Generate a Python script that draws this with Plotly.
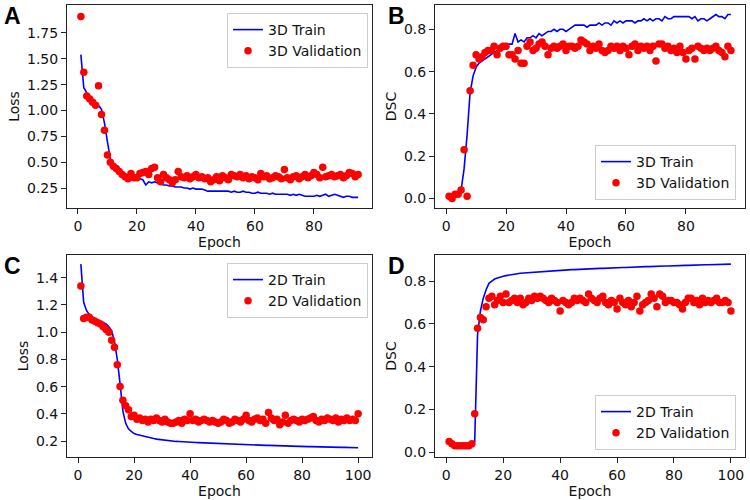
import plotly.graph_objects as go

# ---------------- data ----------------
epochs_3d = list(range(1, 96))
epochs_2d = list(range(1, 101))

loss_train_3d = [1.54, 1.22, 1.17, 1.13, 1.10, 1.07, 1.05, 1.01, 0.88, 0.70,
                 0.53, 0.46, 0.43, 0.40, 0.38, 0.37, 0.36, 0.36, 0.35, 0.35,
                 0.34, 0.33, 0.28, 0.31, 0.30, 0.31, 0.30, 0.29, 0.28, 0.28,
                 0.27, 0.27, 0.26, 0.26, 0.26, 0.25, 0.25, 0.24, 0.25, 0.24,
                 0.24, 0.24, 0.23, 0.22, 0.22, 0.22, 0.22, 0.22, 0.22, 0.22,
                 0.22, 0.21, 0.22, 0.21, 0.21, 0.22, 0.21, 0.21, 0.20, 0.20,
                 0.21, 0.20, 0.20, 0.20, 0.19, 0.20, 0.19, 0.19, 0.19, 0.19,
                 0.19, 0.18, 0.19, 0.18, 0.19, 0.18, 0.17, 0.17, 0.17, 0.17,
                 0.18, 0.17, 0.18, 0.19, 0.17, 0.18, 0.19, 0.18, 0.17, 0.16,
                 0.17, 0.17, 0.16, 0.16, 0.16]
loss_val_3d = [1.91, 1.37, 1.14, 1.11, 1.08, 1.05, 1.24, 0.96, 0.81, 0.57,
               0.50, 0.46, 0.44, 0.41, 0.38, 0.36, 0.34, 0.39, 0.35, 0.35,
               0.39, 0.40, 0.41, 0.38, 0.44, 0.45, 0.35, 0.31, 0.38, 0.35,
               0.33, 0.30, 0.33, 0.41, 0.36, 0.35, 0.37, 0.34, 0.36, 0.38,
               0.35, 0.36, 0.34, 0.35, 0.31, 0.33, 0.36, 0.32, 0.37, 0.35,
               0.33, 0.38, 0.37, 0.36, 0.38, 0.35, 0.37, 0.34, 0.36, 0.35,
               0.33, 0.39, 0.36, 0.37, 0.34, 0.35, 0.37, 0.36, 0.34, 0.43,
               0.35, 0.33, 0.36, 0.37, 0.34, 0.36, 0.38, 0.35, 0.37, 0.40,
               0.38, 0.35, 0.45, 0.36, 0.37, 0.38, 0.36, 0.37, 0.38, 0.35,
               0.37, 0.40, 0.39, 0.36, 0.38]
dsc_train_3d = [0.01, 0.01, 0.02, 0.02, 0.04, 0.14, 0.30, 0.50, 0.58, 0.62,
                0.64, 0.65, 0.66, 0.67, 0.68, 0.69, 0.70, 0.71, 0.71, 0.72,
                0.73, 0.73, 0.78, 0.74, 0.75, 0.74, 0.76, 0.76, 0.77, 0.76,
                0.78, 0.77, 0.78, 0.79, 0.79, 0.80, 0.79, 0.80, 0.80, 0.79,
                0.80, 0.81, 0.82, 0.82, 0.82, 0.82, 0.81, 0.82, 0.82, 0.82,
                0.83, 0.82, 0.83, 0.83, 0.82, 0.84, 0.83, 0.84, 0.83, 0.84,
                0.84, 0.84, 0.83, 0.84, 0.84, 0.85, 0.84, 0.85, 0.84, 0.85,
                0.85, 0.84, 0.86, 0.85, 0.85, 0.86, 0.86, 0.86, 0.86, 0.86,
                0.86, 0.85, 0.86, 0.84, 0.85, 0.85, 0.84, 0.85, 0.86, 0.87,
                0.86, 0.86, 0.85, 0.87, 0.87]
dsc_val_3d = [0.01, 0.00, 0.02, 0.02, 0.04, 0.23, 0.01, 0.51, 0.63, 0.68,
              0.66, 0.67, 0.69, 0.70, 0.70, 0.72, 0.68, 0.71, 0.72, 0.72,
              0.68, 0.68, 0.66, 0.70, 0.64, 0.64, 0.72, 0.74, 0.70, 0.71,
              0.73, 0.74, 0.72, 0.68, 0.71, 0.72, 0.71, 0.72, 0.73, 0.70,
              0.72, 0.72, 0.71, 0.72, 0.75, 0.74, 0.73, 0.70, 0.72, 0.71,
              0.73, 0.70, 0.69, 0.70, 0.72, 0.71, 0.72, 0.70, 0.72, 0.71,
              0.68, 0.72, 0.73, 0.70, 0.72, 0.71, 0.72, 0.70, 0.72, 0.65,
              0.73, 0.73, 0.71, 0.72, 0.70, 0.71, 0.69, 0.72, 0.69, 0.66,
              0.70, 0.71, 0.66, 0.72, 0.71, 0.70, 0.71, 0.70, 0.71, 0.72,
              0.70, 0.69, 0.67, 0.72, 0.70]

loss_train_2d = [1.50, 1.22, 1.16, 1.13, 1.11, 1.10, 1.09, 1.08, 1.07, 1.06,
                 1.04, 1.01, 0.93, 0.80, 0.62, 0.42, 0.33, 0.29, 0.27, 0.255,
                 0.248, 0.242, 0.237, 0.232, 0.227, 0.222, 0.218, 0.214, 0.211, 0.208,
                 0.205, 0.203, 0.201, 0.199, 0.197, 0.196, 0.194, 0.193, 0.192, 0.191,
                 0.190, 0.189, 0.188, 0.187, 0.186, 0.185, 0.184, 0.183, 0.182, 0.181,
                 0.180, 0.179, 0.178, 0.178, 0.177, 0.176, 0.175, 0.175, 0.174, 0.173,
                 0.172, 0.172, 0.171, 0.170, 0.170, 0.169, 0.168, 0.168, 0.167, 0.166,
                 0.166, 0.165, 0.165, 0.164, 0.163, 0.163, 0.162, 0.162, 0.161, 0.160,
                 0.160, 0.159, 0.159, 0.158, 0.158, 0.157, 0.157, 0.156, 0.156, 0.155,
                 0.155, 0.154, 0.154, 0.153, 0.153, 0.152, 0.152, 0.151, 0.151, 0.150]
loss_val_2d = [1.34, 1.10, 1.11, 1.11, 1.09, 1.08, 1.07, 1.06, 1.04, 1.02,
               1.00, 0.94, 0.89, 0.76, 0.60, 0.50, 0.46, 0.43, 0.38, 0.39,
               0.36, 0.37, 0.35, 0.36, 0.34, 0.36, 0.35, 0.37, 0.35, 0.34,
               0.36, 0.34, 0.33, 0.33, 0.34, 0.35, 0.33, 0.36, 0.35, 0.40,
               0.35, 0.36, 0.34, 0.35, 0.36, 0.35, 0.34, 0.35, 0.34, 0.33,
               0.34, 0.36, 0.35, 0.33, 0.34, 0.36, 0.35, 0.34, 0.36, 0.39,
               0.35, 0.34, 0.36, 0.37, 0.35, 0.36, 0.33, 0.41, 0.37, 0.35,
               0.36, 0.32, 0.34, 0.39, 0.33, 0.35, 0.36, 0.35, 0.34, 0.36,
               0.35, 0.36, 0.37, 0.38, 0.35, 0.34, 0.36, 0.35, 0.37, 0.36,
               0.35, 0.37, 0.34, 0.36, 0.35, 0.37, 0.35, 0.36, 0.35, 0.40]
dsc_train_2d = [0.030, 0.030, 0.025, 0.025, 0.025, 0.030, 0.030, 0.035, 0.040, 0.050,
                0.550, 0.660, 0.720, 0.760, 0.790, 0.800, 0.810, 0.815, 0.820, 0.823,
                0.826, 0.829, 0.831, 0.833, 0.835, 0.837, 0.838, 0.840, 0.841, 0.842,
                0.843, 0.844, 0.845, 0.846, 0.847, 0.848, 0.849, 0.850, 0.850, 0.851,
                0.852, 0.852, 0.853, 0.854, 0.854, 0.855, 0.856, 0.856, 0.857, 0.857,
                0.858, 0.858, 0.859, 0.860, 0.860, 0.861, 0.861, 0.862, 0.862, 0.863,
                0.863, 0.864, 0.864, 0.865, 0.865, 0.866, 0.866, 0.867, 0.867, 0.868,
                0.868, 0.869, 0.869, 0.870, 0.870, 0.870, 0.871, 0.871, 0.872, 0.872,
                0.873, 0.873, 0.873, 0.874, 0.874, 0.875, 0.875, 0.875, 0.876, 0.876,
                0.877, 0.877, 0.877, 0.878, 0.878, 0.878, 0.879, 0.879, 0.880, 0.880]
dsc_val_2d = [0.05, 0.04, 0.03, 0.03, 0.03, 0.03, 0.03, 0.03, 0.04, 0.18,
              0.58, 0.63, 0.62, 0.68, 0.72, 0.73, 0.69, 0.71, 0.73, 0.70,
              0.74, 0.70, 0.71, 0.72, 0.70, 0.72, 0.69, 0.70, 0.72, 0.71,
              0.73, 0.72, 0.73, 0.72, 0.71, 0.70, 0.72, 0.71, 0.70, 0.66,
              0.71, 0.70, 0.69, 0.70, 0.72, 0.71, 0.72, 0.71, 0.70, 0.74,
              0.72, 0.71, 0.70, 0.72, 0.73, 0.70, 0.69, 0.71, 0.70, 0.67,
              0.72, 0.70, 0.69, 0.71, 0.68, 0.70, 0.73, 0.66, 0.69, 0.70,
              0.71, 0.74, 0.72, 0.68, 0.74, 0.73, 0.70, 0.71, 0.71, 0.70,
              0.70, 0.69, 0.67, 0.70, 0.72, 0.72, 0.70, 0.71, 0.69, 0.72,
              0.70, 0.71, 0.70, 0.71, 0.72, 0.70, 0.70, 0.71, 0.70, 0.66]

# ---------------- figure ----------------
FONT = "DejaVu Sans"
BLUE = "#0000ff"
RED = "#ff0000"

fig = go.Figure()

panels = [
    ("x", "y", epochs_3d, loss_train_3d, loss_val_3d, "3D Train", "3D Validation", "legend"),
    ("x2", "y2", epochs_3d, dsc_train_3d, dsc_val_3d, "3D Train", "3D Validation", "legend2"),
    ("x3", "y3", epochs_2d, loss_train_2d, loss_val_2d, "2D Train", "2D Validation", "legend3"),
    ("x4", "y4", epochs_2d, dsc_train_2d, dsc_val_2d, "2D Train", "2D Validation", "legend4"),
]
for xa, ya, xs, tr, va, ntr, nva, lg in panels:
    fig.add_trace(go.Scatter(x=xs, y=tr, mode="lines", name=ntr,
                             line=dict(color=BLUE, width=1.6),
                             xaxis=xa, yaxis=ya, legend=lg))
    fig.add_trace(go.Scatter(x=xs, y=va, mode="markers", name=nva,
                             marker=dict(color=RED, size=7.5),
                             xaxis=xa, yaxis=ya, legend=lg))

W, H = 750, 500
ML, MR, MT, MB = 67, 5, 5, 43
PW, PH = W - ML - MR, H - MT - MB


def dx(px0, px1):
    return [(px0 - ML) / PW, (px1 - ML) / PW]


def dy(top, bot):
    return [(H - MB - bot) / PH, (H - MB - top) / PH]


axis_common = dict(showline=True, mirror=True, linecolor="#222222", linewidth=1,
                   ticks="outside", ticklen=5, tickwidth=1, tickcolor="#222222",
                   showgrid=False, zeroline=False,
                   tickfont=dict(family=FONT, size=14, color="#111111"))

title_font = dict(family=FONT, size=14, color="#111111")

fig.update_layout(
    width=W, height=H,
    margin=dict(l=ML, r=MR, t=MT, b=MB),
    paper_bgcolor="white", plot_bgcolor="white",
    font=dict(family=FONT, size=14, color="#111111"),
    showlegend=True,
    xaxis=dict(domain=dx(67, 372), range=[-3.7, 99.7], tickvals=[0, 20, 40, 60, 80],
               anchor="y", title=dict(text="Epoch", font=title_font, standoff=1), **axis_common),
    yaxis=dict(domain=dy(5, 208), range=[0.057, 2.02], tickvals=[0.25, 0.5, 0.75, 1.0, 1.25, 1.5, 1.75],
               tickformat=".2f", anchor="x", title=dict(text="Loss", font=title_font, standoff=4), **axis_common),
    xaxis2=dict(domain=dx(435, 745), range=[-3.7, 99.7], tickvals=[0, 20, 40, 60, 80],
                anchor="y2", title=dict(text="Epoch", font=title_font, standoff=1), **axis_common),
    yaxis2=dict(domain=dy(5, 208), range=[-0.045, 0.915], tickvals=[0.0, 0.2, 0.4, 0.6, 0.8],
                tickformat=".1f", anchor="x2", title=dict(text="DSC", font=title_font, standoff=4), **axis_common),
    xaxis3=dict(domain=dx(67, 372), range=[-3.95, 104.95], tickvals=[0, 20, 40, 60, 80, 100],
                anchor="y3", title=dict(text="Epoch", font=title_font, standoff=1), **axis_common),
    yaxis3=dict(domain=dy(255, 457), range=[0.0825, 1.5675], tickvals=[0.2, 0.4, 0.6, 0.8, 1.0, 1.2, 1.4],
                tickformat=".1f", anchor="x3", title=dict(text="Loss", font=title_font, standoff=4), **axis_common),
    xaxis4=dict(domain=dx(435, 745), range=[-3.95, 104.95], tickvals=[0, 20, 40, 60, 80, 100],
                anchor="y4", title=dict(text="Epoch", font=title_font, standoff=1), **axis_common),
    yaxis4=dict(domain=dy(255, 457), range=[-0.0225, 0.9225], tickvals=[0.0, 0.2, 0.4, 0.6, 0.8],
                tickformat=".1f", anchor="x4", title=dict(text="DSC", font=title_font, standoff=4), **axis_common),
)

legend_common = dict(bgcolor="rgba(255,255,255,0.85)", bordercolor="#cccccc", borderwidth=1,
                     font=dict(family=FONT, size=14, color="#111111"),
                     xref="paper", yref="paper", itemwidth=30)


def lx(px):
    return (px - ML) / PW


def ly(py):
    return (H - MB - py) / PH


fig.update_layout(
    legend=dict(x=lx(368), y=ly(13), xanchor="right", yanchor="top", **legend_common),
    legend2=dict(x=lx(736), y=ly(200), xanchor="right", yanchor="bottom", **legend_common),
    legend3=dict(x=lx(368), y=ly(263), xanchor="right", yanchor="top", **legend_common),
    legend4=dict(x=lx(736), y=ly(450), xanchor="right", yanchor="bottom", **legend_common),
)

letters = [("A", 2, 1), ("B", 386, 1), ("C", 2, 251), ("D", 386, 251)]
for txt, px, py in letters:
    fig.add_annotation(text="<b>%s</b>" % txt, xref="paper", yref="paper",
                       x=lx(px), y=ly(py), xanchor="left", yanchor="top", showarrow=False,
                       font=dict(family="Liberation Sans", size=23, color="#000000"))

fig.write_html("out.html", config={"displayModeBar": False},
               post_script="document.body.style.margin='0px';")
